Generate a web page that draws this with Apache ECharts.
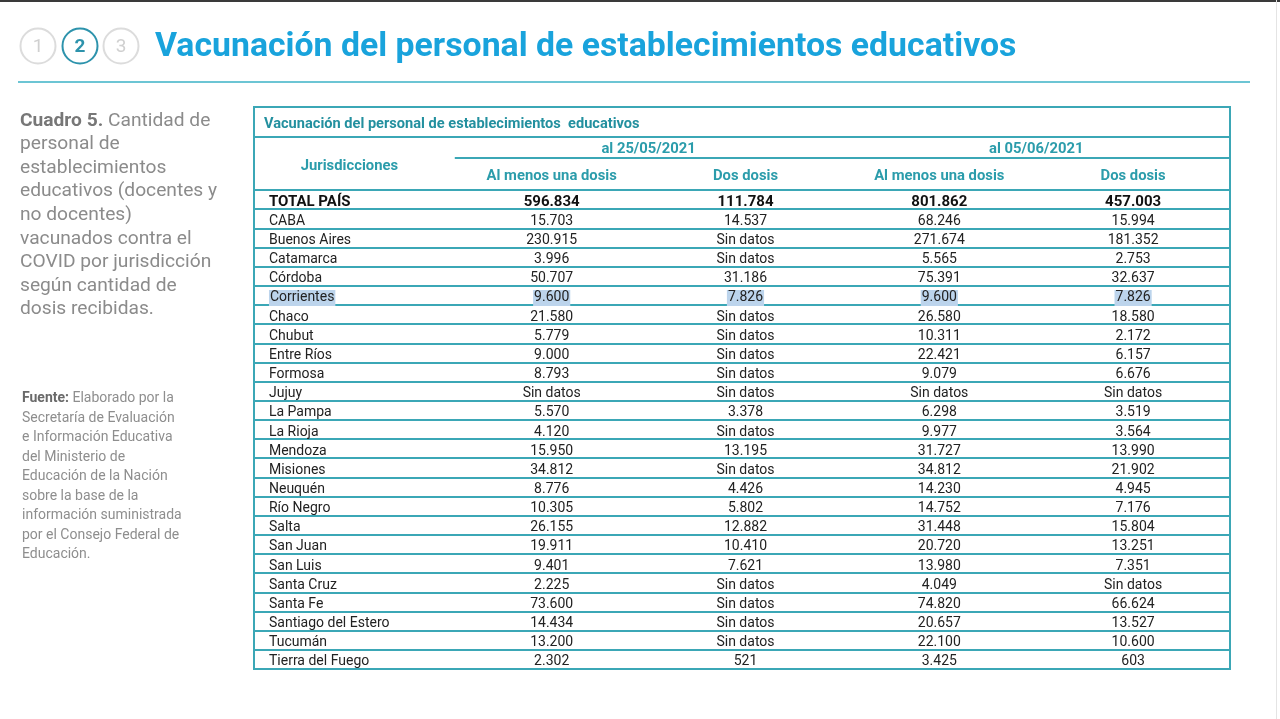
<!DOCTYPE html>
<html><head><meta charset="utf-8">
<script src="https://cdn.jsdelivr.net/npm/echarts@6/dist/echarts.min.js"></script>
<style>html,body{margin:0;padding:0;background:#fff;}#c{width:1280px;height:719px;}</style>
</head><body><div id="c"></div>
<script>
// ---------- data ----------
const totalLabel = 'TOTAL PAÍS';
const jurisdicciones = ['CABA','Buenos Aires','Catamarca','Córdoba','Corrientes','Chaco','Chubut','Entre Ríos','Formosa','Jujuy','La Pampa','La Rioja','Mendoza','Misiones','Neuquén','Río Negro','Salta','San Juan','San Luis','Santa Cruz','Santa Fe','Santiago del Estero','Tucumán','Tierra del Fuego'];
const dateHeaders = ['al 25/05/2021','al 05/06/2021'];
const columnHeaders = ['Al menos una dosis','Dos dosis','Al menos una dosis','Dos dosis'];
// first value = TOTAL PAÍS, then one per jurisdicción; null = "Sin datos"
const al2505UnaDosis = [596834,15703,230915,3996,50707,9600,21580,5779,9000,8793,null,5570,4120,15950,34812,8776,10305,26155,19911,9401,2225,73600,14434,13200,2302];
const al2505DosDosis = [111784,14537,null,null,31186,7826,null,null,null,null,null,3378,null,13195,null,4426,5802,12882,10410,7621,null,null,null,null,521];
const al0506UnaDosis = [801862,68246,271674,5565,75391,9600,26580,10311,22421,9079,null,6298,9977,31727,34812,14230,14752,31448,20720,13980,4049,74820,20657,22100,3425];
const al0506DosDosis = [457003,15994,181352,2753,32637,7826,18580,2172,6157,6676,null,3519,3564,13990,21902,4945,7176,15804,13251,7351,null,66624,13527,10600,603];
const highlightedRow = 'Corrientes';

// ---------- build ----------
const TEAL = '#3ba7b6';
const HEAD = '#2b9cab';
const rows = [totalLabel].concat(jurisdicciones);
const valueCols = [al2505UnaDosis, al2505DosDosis, al0506UnaDosis, al0506DosDosis];
function fmt(v){ return v == null ? 'Sin datos' : String(v).replace(/\B(?=(\d{3})+(?!\d))/g, '.'); }
const cells = [];
rows.forEach((r, ri) => {
  cells.push({value:[0, r], text:r, bold: ri===0, hl: r===highlightedRow});
  valueCols.forEach((col, ci) => {
    cells.push({value:[ci+1, r], text:fmt(col[ri]), bold: ri===0, hl: r===highlightedRow});
  });
});

const chart = echarts.init(document.getElementById('c'));
const option = {
  animation: false,
  backgroundColor: '#fff',
  grid: {left:254, right:50, top:190, bottom:50, show:true, borderColor:TEAL, borderWidth:2, backgroundColor:'transparent'},
  xAxis: {type:'value', min:-0.536, max:4.5, show:false},
  yAxis: {type:'category', data:rows, inverse:true,
    axisLine:{show:false}, axisTick:{show:false}, axisLabel:{show:false, interval:0},
    splitLine:{show:true, interval:0, lineStyle:{color:TEAL, width:2}}},
  series: [{
    type:'custom',
    data: cells.map(c => c.value),
    encode: {x:0, y:1},
    renderItem: function(params, api){
      const cell = cells[params.dataIndex];
      const c = api.value(0);
      const pt = api.coord([c, api.value(1)]);
      const sz = api.size([1, 1]);
      const left = c === 0;
      return {
        type:'text',
        style:{
          text: cell.text,
          x: left ? pt[0] - sz[0]/2 + 8 : pt[0],
          y: pt[1] + 2.5,
          align: left ? 'left' : 'center',
          verticalAlign: 'middle',
          fill: cell.bold ? '#111' : '#222',
          font: (cell.bold ? 'bold 15px' : '14px') + ' Roboto, sans-serif',
          backgroundColor: cell.hl ? '#bcd4ec' : 'transparent',
          padding: cell.hl ? [1, 1] : 0
        }
      };
    }
  }]
};
chart.setOption(option);

// ---------- header & page decorations (positions derived from the axis) ----------
const px = v => chart.convertToPixel({xAxisIndex:0}, v);
const gl = px(-0.536), gr = px(4.5), b1 = px(0.5);
const g = [];
// screenshot frame
g.push({type:'rect', shape:{x:0, y:0, width:1280, height:2}, style:{fill:'#3a3a3a'}});
g.push({type:'rect', shape:{x:1276, y:0, width:1, height:719}, style:{fill:'#e4e4e4'}});
// step circles
[['1',38,false],['2',80,true],['3',121,false]].forEach(([t,x,act]) => {
  g.push({type:'circle', shape:{cx:x, cy:46, r:17.5}, style:{fill:'#fff', stroke: act ? '#2d93ac' : '#dcdcdc', lineWidth:2}});
  g.push({type:'text', style:{text:t, x:x, y:47, align:'center', verticalAlign:'middle', fill: act ? '#2d93ac' : '#d0d0d0', font:(act?'bold ':'')+'19px Roboto, sans-serif'}});
});
g.push({type:'text', style:{text:'Vacunación del personal de establecimientos educativos', x:155, y:48, verticalAlign:'middle', fill:'#19a3dc', font:'bold 33.8px Roboto, sans-serif'}});
g.push({type:'line', shape:{x1:18, y1:82, x2:1250, y2:82}, style:{stroke:'#6cc5d4', lineWidth:2}});
// left description
g.push({type:'text', style:{
  text:'{b|Cuadro 5.} Cantidad de\npersonal de\nestablecimientos\neducativos (docentes y\nno docentes)\nvacunados contra el\nCOVID por jurisdicción\nsegún cantidad de\ndosis recibidas.',
  x:20, y:109, fill:'#8b8b8b', font:'19.2px Roboto, sans-serif', lineHeight:23.6,
  rich:{b:{fontWeight:'bold', fill:'#777', fontSize:19.2, fontFamily:'Roboto', lineHeight:23.6}}}});
g.push({type:'text', style:{
  text:'{b|Fuente:} Elaborado por la\nSecretaría de Evaluación\ne Información Educativa\ndel Ministerio de\nEducación de la Nación\nsobre la base de la\ninformación suministrada\npor el Consejo Federal de\nEducación.',
  x:22, y:389, fill:'#8e8e8e', font:'14px Roboto, sans-serif', lineHeight:19.5,
  rich:{b:{fontWeight:'bold', fill:'#6a6a6a', fontSize:14, fontFamily:'Roboto', lineHeight:19.5}}}});
// table header frame
g.push({type:'rect', shape:{x:gl, y:107, width:gr-gl, height:83}, style:{fill:'none', stroke:TEAL, lineWidth:2}});
g.push({type:'line', shape:{x1:gl, y1:137, x2:gr, y2:137}, style:{stroke:TEAL, lineWidth:2}});
g.push({type:'line', shape:{x1:b1, y1:158, x2:gr, y2:158}, style:{stroke:TEAL, lineWidth:2}});
g.push({type:'text', style:{text:'Vacunación del personal de establecimientos  educativos', x:gl+10, y:124, verticalAlign:'middle', fill:'#23909f', font:'bold 14.6px Roboto, sans-serif'}});
g.push({type:'text', style:{text:'Jurisdicciones', x:(gl+b1)/2 - 5, y:166, align:'center', verticalAlign:'middle', fill:HEAD, font:'bold 14.8px Roboto, sans-serif'}});
dateHeaders.forEach((d, i) => {
  g.push({type:'text', style:{text:d, x:px(1.5 + 2*i), y:149.5, align:'center', verticalAlign:'middle', fill:HEAD, font:'bold 14.8px Roboto, sans-serif'}});
});
columnHeaders.forEach((h, i) => {
  g.push({type:'text', style:{text:h, x:px(i+1), y:176, align:'center', verticalAlign:'middle', fill:HEAD, font:'bold 14.8px Roboto, sans-serif'}});
});
chart.setOption({graphic: g});
</script>
</body></html>
